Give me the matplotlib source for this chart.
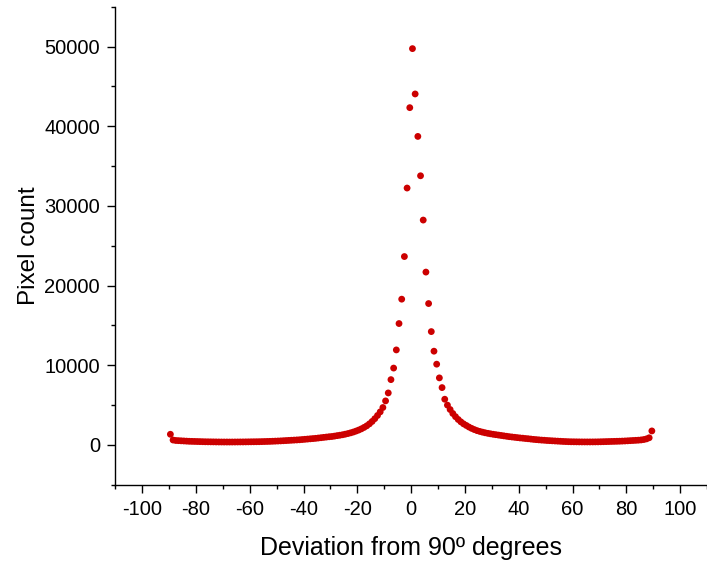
import numpy as np
import matplotlib.pyplot as plt
from matplotlib.ticker import MultipleLocator

plt.rcParams['font.family'] = ['Liberation Sans', 'DejaVu Sans']
plt.rcParams['axes.unicode_minus'] = False  # plain hyphen for negative ticks

# bin centres, degrees
deviation = np.arange(-89.5, 90.0, 1.0)

# pixel counts, left half (-89.5 .. -0.5)
counts_left = [
    1340, 620, 560, 540, 520, 500, 480, 460, 450, 440,
    430, 420, 410, 400, 395, 390, 385, 380, 375, 372,
    370, 370, 368, 370, 372, 375, 378, 380, 385, 390,
    395, 400, 405, 410, 420, 430, 440, 450, 465, 480,
    495, 510, 530, 550, 570, 590, 610, 630, 650, 680,
    710, 740, 770, 800, 830, 870, 910, 950, 990, 1030,
    1060, 1110, 1170, 1220, 1280, 1350, 1430, 1520, 1620, 1740,
    1870, 2020, 2200, 2400, 2650, 2950, 3300, 3700, 4150, 4700,
    5530, 6530, 8200, 9650, 11930, 15240, 18300, 23650, 32250, 42340,
]
# pixel counts, right half (0.5 .. 89.5)
counts_right = [
    49750, 44060, 38730, 33790, 28230, 21700, 17750, 14230, 11770, 10140,
    8420, 7200, 5740, 5000, 4450, 3950, 3550, 3200, 2900, 2650,
    2450, 2250, 2080, 1930, 1800, 1700, 1610, 1530, 1460, 1400,
    1340, 1290, 1240, 1190, 1140, 1090, 1040, 1000, 960, 920,
    880, 850, 810, 780, 740, 700, 670, 640, 610, 590,
    560, 540, 520, 500, 480, 460, 440, 425, 410, 400,
    395, 390, 385, 382, 380, 380, 380, 382, 385, 390,
    400, 410, 420, 430, 440, 450, 460, 470, 485, 500,
    520, 540, 560, 580, 600, 630, 680, 760, 900, 1760,
]
counts = np.array(counts_left + counts_right)

fig = plt.figure(figsize=(7.07, 5.67), dpi=100)
ax = fig.add_axes([0.163, 0.145, 0.837, 0.843])

ax.scatter(deviation, counts, s=24, color='#CC0000', edgecolors='none', zorder=3)

ax.set_xlim(-110, 110)
ax.set_ylim(-5000, 55000)
ax.set_xticks(range(-100, 101, 20))
ax.set_yticks(range(0, 50001, 10000))
ax.xaxis.set_minor_locator(MultipleLocator(10))
ax.yaxis.set_minor_locator(MultipleLocator(5000))

for s in ['top', 'right']:
    ax.spines[s].set_visible(False)
for s in ['left', 'bottom']:
    ax.spines[s].set_linewidth(1.0)

ax.tick_params(which='major', direction='out', length=6, width=1.0, labelsize=14.5, pad=5)
ax.tick_params(which='minor', direction='out', length=3, width=1.0)

ax.set_xlabel('Deviation from 90º degrees', fontsize=18)
ax.set_ylabel('Pixel count', fontsize=17.5)
ax.xaxis.set_label_coords(0.5, -0.108)
ax.yaxis.set_label_coords(-0.127, 0.5)

fig.savefig('out.png', dpi=100)
